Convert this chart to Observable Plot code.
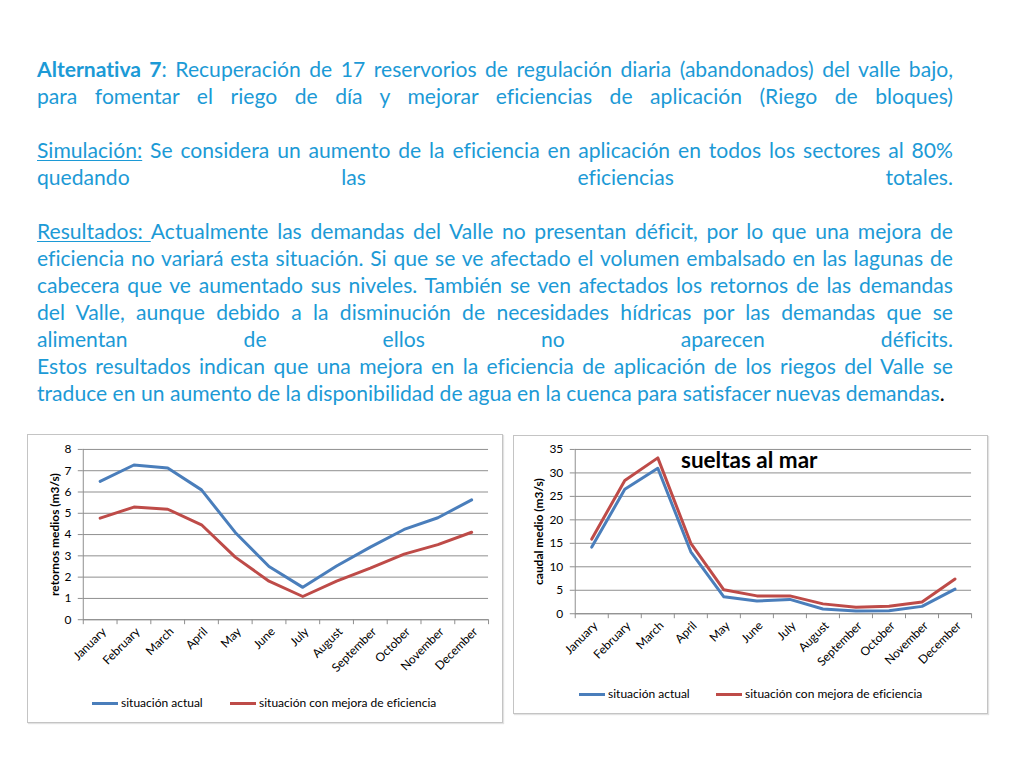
<!DOCTYPE html>
<html><head><meta charset="utf-8">
<script src="https://cdn.jsdelivr.net/npm/d3@7"></script>
<script src="https://cdn.jsdelivr.net/npm/@observablehq/plot@0.6"></script>
<style>
body{margin:0;background:#fff;width:1024px;height:768px;position:relative;overflow:hidden;font-family:Lato,"Open Sans",sans-serif;font-variant-ligatures:none;font-feature-settings:"liga" 0;}
#text{position:absolute;left:37px;top:55px;width:916px;color:#1c9ad6;line-height:27px;font-size:20px;}
.l{white-space:nowrap;text-align:justify;text-align-last:justify;height:27px;}
.l.last{text-align:left;text-align-last:left;}
.u{text-decoration:underline;text-decoration-thickness:1px;text-underline-offset:2px;}
.frame{position:absolute;border:1px solid #c4c4c4;box-sizing:border-box;background:#fff;box-shadow:1px 1px 1px #e2e2e2;}
.frame .plot{position:absolute;left:-1px;top:-1px;}
.leg{position:absolute;font-size:12px;line-height:14px;white-space:nowrap;color:#000;}
.sw{position:absolute;width:26px;height:3px;}
.ttl{position:absolute;font-weight:bold;font-size:22.5px;line-height:26px;color:#000;white-space:nowrap;}
#measure{position:absolute;visibility:hidden;white-space:nowrap;font-size:20px;}
</style></head>
<body>
<div id="text">
<div class="l"><b>Alternativa 7</b>: Recuperación de 17 reservorios de regulación diaria (abandonados) del valle bajo,</div>
<div class="l">para fomentar el riego de día y mejorar eficiencias de aplicación (Riego de bloques)</div>
<div class="l"></div>
<div class="l"><span class="u">Simulación:</span> Se considera un aumento de la eficiencia en aplicación en todos los sectores al 80%</div>
<div class="l">quedando las eficiencias totales.</div>
<div class="l"></div>
<div class="l"><span class="u">Resultados:&nbsp;</span>Actualmente las demandas del Valle no presentan déficit, por lo que una mejora de</div>
<div class="l">eficiencia no variará esta situación. Si que se ve afectado el volumen embalsado en las lagunas de</div>
<div class="l">cabecera que ve aumentado sus niveles. También se ven afectados los retornos de las demandas</div>
<div class="l">del Valle, aunque debido a la disminución de necesidades hídricas por las demandas que se</div>
<div class="l">alimentan de ellos no aparecen déficits.</div>
<div class="l">Estos resultados indican que una mejora en la eficiencia de aplicación de los riegos del Valle se</div>
<div class="l last" id="lastline">traduce en un aumento de la disponibilidad de agua en la cuenca para satisfacer nuevas demandas<span style="color:#000">.</span></div>
</div>
<span id="measure"></span>

<div class="frame" id="f1" style="left:27px;top:434px;width:476px;height:289px;"></div>
<div class="frame" id="f2" style="left:513px;top:435px;width:475px;height:279px;"></div>

<script>
const months = ["January","February","March","April","May","June","July","August","September","October","November","December"];
const seriesNames = ["situación actual","situación con mejora de eficiencia"];
const seriesColors = ["#4a7ebb","#be4b48"];

// retornos medios (m3/s)
const retornosActual = [6.5,7.27,7.13,6.1,4.1,2.5,1.52,2.52,3.41,4.24,4.79,5.63];
const retornosMejora = [4.77,5.29,5.19,4.46,2.94,1.81,1.09,1.81,2.42,3.08,3.53,4.11];
const retornosTicks = [0,1,2,3,4,5,6,7,8];

// sueltas al mar, caudal medio (m3/s)
const sueltasActual = [14.2,26.5,31.0,13.2,3.6,2.7,3.05,1.0,0.57,0.64,1.57,5.25];
const sueltasMejora = [15.9,28.4,33.2,15.0,5.1,3.8,3.8,2.1,1.4,1.6,2.5,7.4];
const sueltasTicks = [0,5,10,15,20,25,30,35];

// fit the paragraph font to the measured width of the last line
(function(){
  const m = document.getElementById("measure");
  m.textContent = document.getElementById("lastline").textContent;
  const w = m.getBoundingClientRect().width;
  const fs = 20 * 908 / w;
  document.getElementById("text").style.fontSize = fs.toFixed(2) + "px";
})();

const grey = "#8e8e8e";

function chart(o) {
  const data = months.flatMap((m, i) => [
    {i, v: o.actual[i], s: seriesNames[0]},
    {i, v: o.mejora[i], s: seriesNames[1]}
  ]);
  const idx = d3.range(months.length);
  const bounds = d3.range(-0.5, months.length, 1);
  return Plot.plot({
    width: o.width, height: o.height,
    marginLeft: o.mL, marginRight: o.mR, marginTop: o.mT, marginBottom: o.mB,
    style: {fontFamily: "Lato, sans-serif", fontSize: "12px", color: "#000", background: "transparent", overflow: "visible"},
    x: {domain: [-0.5, months.length - 0.5]},
    y: {domain: [0, o.ticks[o.ticks.length - 1]]},
    color: {domain: seriesNames, range: seriesColors},
    marks: [
      Plot.gridY(o.ticks, {stroke: grey, strokeOpacity: 1}),
      Plot.ruleY([0], {stroke: grey}),
      Plot.ruleX([-0.5], {stroke: grey}),
      Plot.axisY(o.ticks, {tickSize: 5, tickPadding: 7, label: null, stroke: grey}),
      Plot.axisX(bounds, {tickSize: 5, tickFormat: () => "", label: null, stroke: grey}),
      Plot.axisX(idx, {tickSize: 0, tickPadding: 10, dx: 4, tickFormat: i => months[i], tickRotate: -45, label: null}),
      Plot.text([o.yLabel], {text: d => d, frameAnchor: "left", dx: o.labelDx, rotate: -90, fontWeight: "bold", fontSize: 12, textAnchor: "middle"}),
      Plot.line(data, {x: "i", y: "v", z: "s", stroke: "s", strokeWidth: 3, strokeLinejoin: "round"})
    ]
  });
}

function legend(frame, yc, pos) {
  seriesNames.forEach((n, k) => {
    const sw = document.createElement("div");
    sw.className = "sw";
    sw.style.background = seriesColors[k];
    sw.style.left = (pos[k] - 1) + "px";
    sw.style.top = (yc - 2.5) + "px";
    frame.appendChild(sw);
    const t = document.createElement("div");
    t.className = "leg";
    t.textContent = n;
    t.style.left = (pos[k] + 28) + "px";
    t.style.top = (yc - 8) + "px";
    frame.appendChild(t);
  });
}

const f1 = document.getElementById("f1");
const p1 = chart({width: 476, height: 246, mL: 56, mR: 13, mT: 15, mB: 60,
  ticks: retornosTicks, yLabel: "retornos medios (m3/s)", labelDx: -28,
  actual: retornosActual, mejora: retornosMejora});
p1.classList.add("plot");
f1.appendChild(p1);
legend(f1, 269, [65, 203]);

const f2 = document.getElementById("f2");
const p2 = chart({width: 475, height: 239, mL: 62, mR: 15, mT: 14, mB: 60,
  ticks: sueltasTicks, yLabel: "caudal medio (m3/s)", labelDx: -36,
  actual: sueltasActual, mejora: sueltasMejora});
p2.classList.add("plot");
f2.appendChild(p2);
legend(f2, 259, [66, 203]);
const ttl = document.createElement("div");
ttl.className = "ttl";
ttl.textContent = "sueltas al mar";
ttl.style.left = "167px";
ttl.style.top = "11px";
f2.appendChild(ttl);
</script>
</body></html>
